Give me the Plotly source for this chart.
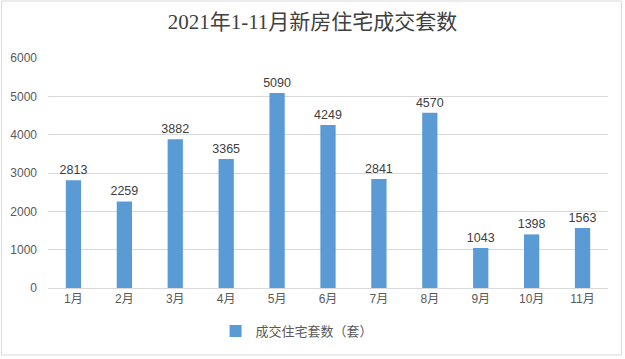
import plotly.graph_objects as go

months = ["1月", "2月", "3月", "4月", "5月", "6月", "7月", "8月", "9月", "10月", "11月"]
deals = [2813, 2259, 3882, 3365, 5090, 4249, 2841, 4570, 1043, 1398, 1563]
series_name = "成交住宅套数（套）"
title_text = "2021年1-11月新房住宅成交套数"

W, H = 625, 359
L, R, T, B = 47.5, 16.5, 58, 71
pw, ph = W - L - R, H - T - B

fig = go.Figure(go.Bar(
    x=months, y=deals, name=series_name,
    marker=dict(color="#5B9BD5", line=dict(width=0)),
    text=deals, textposition="outside", cliponaxis=False, constraintext="none",
    textfont=dict(family="Liberation Sans, Noto Sans CJK SC", size=12.5, color="#404040"),
))

fig.update_layout(
    width=W, height=H,
    margin=dict(l=L, r=R, t=T, b=B, autoexpand=False),
    paper_bgcolor="white", plot_bgcolor="white",
    bargap=0.7,
    title=dict(text=title_text, x=0.5, xanchor="center", y=1 - 22 / H, yanchor="middle",
               font=dict(family="Liberation Serif, Noto Sans CJK SC", size=21, color="#404040")),
    showlegend=True,
    legend=dict(orientation="h", x=(297 - L) / pw, xanchor="center", y=-(331 - 288) / ph, yanchor="middle",
                font=dict(family="Noto Sans CJK SC", size=13, color="#595959"),
                itemwidth=30),
    xaxis=dict(showgrid=False, showline=True, linecolor="#D9D9D9", linewidth=1, ticks="",
               tickfont=dict(family="Liberation Sans, Noto Sans CJK SC", size=12, color="#595959")),
    yaxis=dict(range=[0, 6000], dtick=1000, showgrid=True, gridcolor="#D9D9D9", gridwidth=1,
               zeroline=False, showline=False, ticks="", ticklabelstandoff=10,
               tickfont=dict(family="Liberation Sans", size=12, color="#595959")),
    shapes=[dict(type="rect", xref="paper", yref="paper",
                 x0=(1 - L) / pw, x1=(622 - L) / pw,
                 y0=-(355 - (H - B)) / ph, y1=((H - B) - 1) / ph,
                 line=dict(color="#D9D9D9", width=1), fillcolor="rgba(0,0,0,0)", layer="below")],
)

fig.write_html("out.html", config={"displayModeBar": False},
               post_script="document.body.style.margin='0';")
